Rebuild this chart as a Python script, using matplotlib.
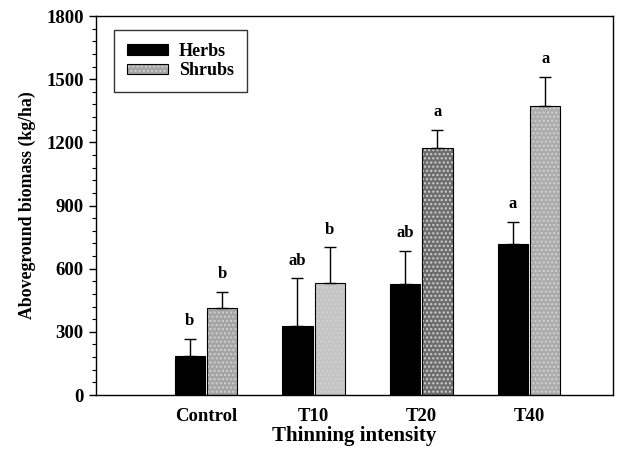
import numpy as np
import matplotlib
matplotlib.use("Agg")
import matplotlib.pyplot as plt
from matplotlib.ticker import MultipleLocator

# data
categories = ["Control", "T10", "T20", "T40"]
herbs_mean = [187, 328, 527, 717]
herbs_se = [79, 226, 158, 106]
shrubs_mean = [415, 530, 1171, 1372]
shrubs_se = [75, 171, 87, 139]
herbs_letters = ["b", "ab", "ab", "a"]
shrubs_letters = ["b", "b", "a", "a"]

plt.rcParams["font.family"] = "Liberation Serif"
plt.rcParams["font.weight"] = "bold"

fig = plt.figure(figsize=(6.17, 4.5), dpi=100)
ax = fig.add_axes([0.1556, 0.1222, 0.838, 0.8422])

x = np.arange(1, len(categories) + 1)
w = 0.28
off = 0.15
shrub_cols = ["#a4a4a4", "#c4c4c4", "#6e6e6e", "#acacac"]

ax.bar(x - off, herbs_mean, w, color="black", edgecolor="black", lw=0.8,
       label="Herbs", zorder=2)
ax.errorbar(x - off, herbs_mean, yerr=[np.zeros(4), herbs_se], fmt="none",
            ecolor="black", elinewidth=1, capsize=4, capthick=1, zorder=3)
bars = ax.bar(x + off, shrubs_mean, w, color=shrub_cols, edgecolor="black",
              lw=0.8, hatch="....", label="Shrubs", zorder=2)
for b in bars:
    b._hatch_color = (0.82, 0.82, 0.82, 1)
ax.errorbar(x + off, shrubs_mean, yerr=[np.zeros(4), shrubs_se], fmt="none",
            ecolor="black", elinewidth=1, capsize=4, capthick=1, zorder=3)

for i in range(4):
    ax.annotate(herbs_letters[i], (x[i] - off, herbs_mean[i] + herbs_se[i]),
                xytext=(0, 7), textcoords="offset points", ha="center",
                va="bottom", fontsize=12, fontweight="bold")
    ax.annotate(shrubs_letters[i], (x[i] + off, shrubs_mean[i] + shrubs_se[i]),
                xytext=(0, 7), textcoords="offset points", ha="center",
                va="bottom", fontsize=12, fontweight="bold")

ax.set_xlim(-0.02, 4.78)
ax.set_ylim(0, 1800)
ax.set_xticks(x)
ax.set_xticklabels(categories)
ax.yaxis.set_major_locator(MultipleLocator(300))
ax.yaxis.set_minor_locator(MultipleLocator(60))
ax.tick_params(axis="x", length=0, pad=9, labelsize=13.5)
ax.tick_params(axis="y", which="major", direction="out", length=5,
               width=1, labelsize=13.5, pad=4)
ax.tick_params(axis="y", which="minor", direction="out", length=3, width=0.8)
for s in ax.spines.values():
    s.set_linewidth(1)

ax.set_xlabel("Thinning intensity", fontsize=15, fontweight="bold", labelpad=1)
ax.set_ylabel("Aboveground biomass (kg/ha)", fontsize=12.8, fontweight="bold",
              labelpad=7)

leg = ax.legend(loc="upper left", bbox_to_anchor=(0.035, 0.963), frameon=True,
                fancybox=False, edgecolor="black", fontsize=13,
                handlelength=2.3, handleheight=0.55, borderpad=0.7,
                labelspacing=0.15, borderaxespad=0, handletextpad=0.6)
leg.get_frame().set_linewidth(1)
for t in leg.get_texts():
    t.set_fontweight("bold")

fig.savefig("out.png", dpi=100)
